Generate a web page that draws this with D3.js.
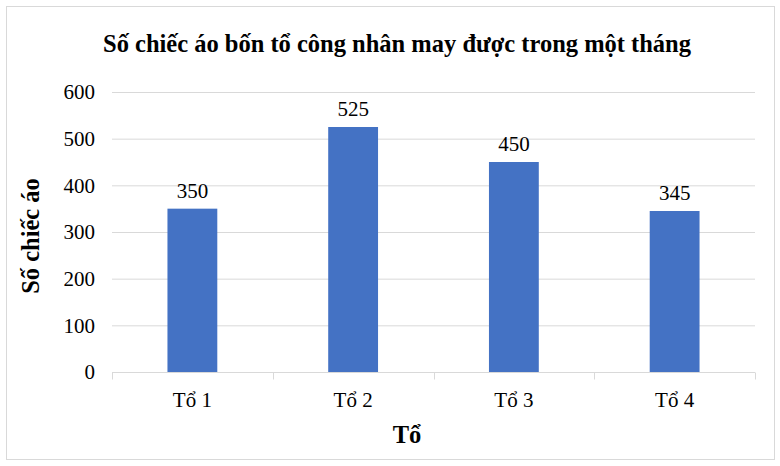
<!DOCTYPE html>
<html>
<head>
<meta charset="utf-8">
<script src="https://cdn.jsdelivr.net/npm/d3@7"></script>
<style>
  body { margin: 0; background: #fff; }
  text { font-family: "Liberation Serif", "Times New Roman", serif; }
</style>
</head>
<body>
<svg id="chart"></svg>
<script>
const groups = ["Tổ 1", "Tổ 2", "Tổ 3", "Tổ 4"];
const shirts = [350, 525, 450, 345];
const yTicks = [0, 100, 200, 300, 400, 500, 600];

const width = 780, height = 466;
const margin = { top: 92, right: 25, bottom: 94, left: 112 };

const svg = d3.select("#chart")
    .attr("width", width)
    .attr("height", height);

// outer frame
svg.append("rect")
    .attr("x", 6.5).attr("y", 6.5)
    .attr("width", 768).attr("height", 453)
    .attr("fill", "#fff")
    .attr("stroke", "#d9d9d9");

const x = d3.scaleBand()
    .domain(groups)
    .range([margin.left, width - margin.right])
    .paddingInner(0.69)
    .paddingOuter(0.345);

const y = d3.scaleLinear()
    .domain([0, 600])
    .range([height - margin.bottom, margin.top]);

// gridlines
svg.append("g")
    .selectAll("line")
    .data(yTicks.slice(1))
    .join("line")
    .attr("x1", margin.left)
    .attr("x2", width - margin.right)
    .attr("y1", d => y(d) + 0.5)
    .attr("y2", d => y(d) + 0.5)
    .attr("stroke", "#d9d9d9");

// y axis labels
const yAxis = svg.append("g")
    .attr("transform", `translate(${margin.left},0)`)
    .call(d3.axisLeft(y).tickValues(yTicks).tickSize(0).tickPadding(17));
yAxis.select(".domain").remove();
yAxis.selectAll("text")
    .attr("font-size", 21)
    .attr("fill", "#000")
    .style("font-family", "Liberation Serif");

// bars
svg.append("g")
    .selectAll("rect")
    .data(shirts)
    .join("rect")
    .attr("x", (d, i) => x(groups[i]))
    .attr("y", d => y(d))
    .attr("width", x.bandwidth())
    .attr("height", d => y(0) - y(d))
    .attr("fill", "#4472c4");

// value labels
svg.append("g")
    .selectAll("text")
    .data(shirts)
    .join("text")
    .attr("x", (d, i) => x(groups[i]) + x.bandwidth() / 2)
    .attr("y", d => y(d) - 11)
    .attr("text-anchor", "middle")
    .attr("font-size", 21)
    .text(d => d);

// x axis
const xPos = d3.scaleLinear().domain([0, groups.length]).range([margin.left, width - margin.right]);
const xAxis = svg.append("g")
    .attr("transform", `translate(0,${y(0) + 0.5})`);
xAxis.append("line")
    .attr("x1", margin.left).attr("x2", width - margin.right)
    .attr("stroke", "#d9d9d9");
xAxis.selectAll(".tk")
    .data(d3.range(groups.length + 1))
    .join("line")
    .attr("class", "tk")
    .attr("x1", d => Math.round(xPos(d)) + 0.5)
    .attr("x2", d => Math.round(xPos(d)) + 0.5)
    .attr("y1", 0).attr("y2", 7)
    .attr("stroke", "#d9d9d9");
xAxis.selectAll(".lbl")
    .data(groups)
    .join("text")
    .attr("class", "lbl")
    .attr("x", d => x(d) + x.bandwidth() / 2)
    .attr("y", 34)
    .attr("text-anchor", "middle")
    .attr("font-size", 21)
    .text(d => d);

// title
svg.append("text")
    .attr("x", 397).attr("y", 52)
    .attr("text-anchor", "middle")
    .attr("font-size", 24.5)
    .attr("font-weight", "bold")
    .text("Số chiếc áo bốn tổ công nhân may được trong một tháng");

// axis titles
svg.append("text")
    .attr("transform", `translate(39,${(y(0) + y(600)) / 2 + 4}) rotate(-90)`)
    .attr("text-anchor", "middle")
    .attr("font-size", 24.5)
    .attr("font-weight", "bold")
    .text("Số chiếc áo");

svg.append("text")
    .attr("x", 407)
    .attr("y", 443)
    .attr("text-anchor", "middle")
    .attr("font-size", 24.5)
    .attr("font-weight", "bold")
    .text("Tổ");
</script>
</body>
</html>
